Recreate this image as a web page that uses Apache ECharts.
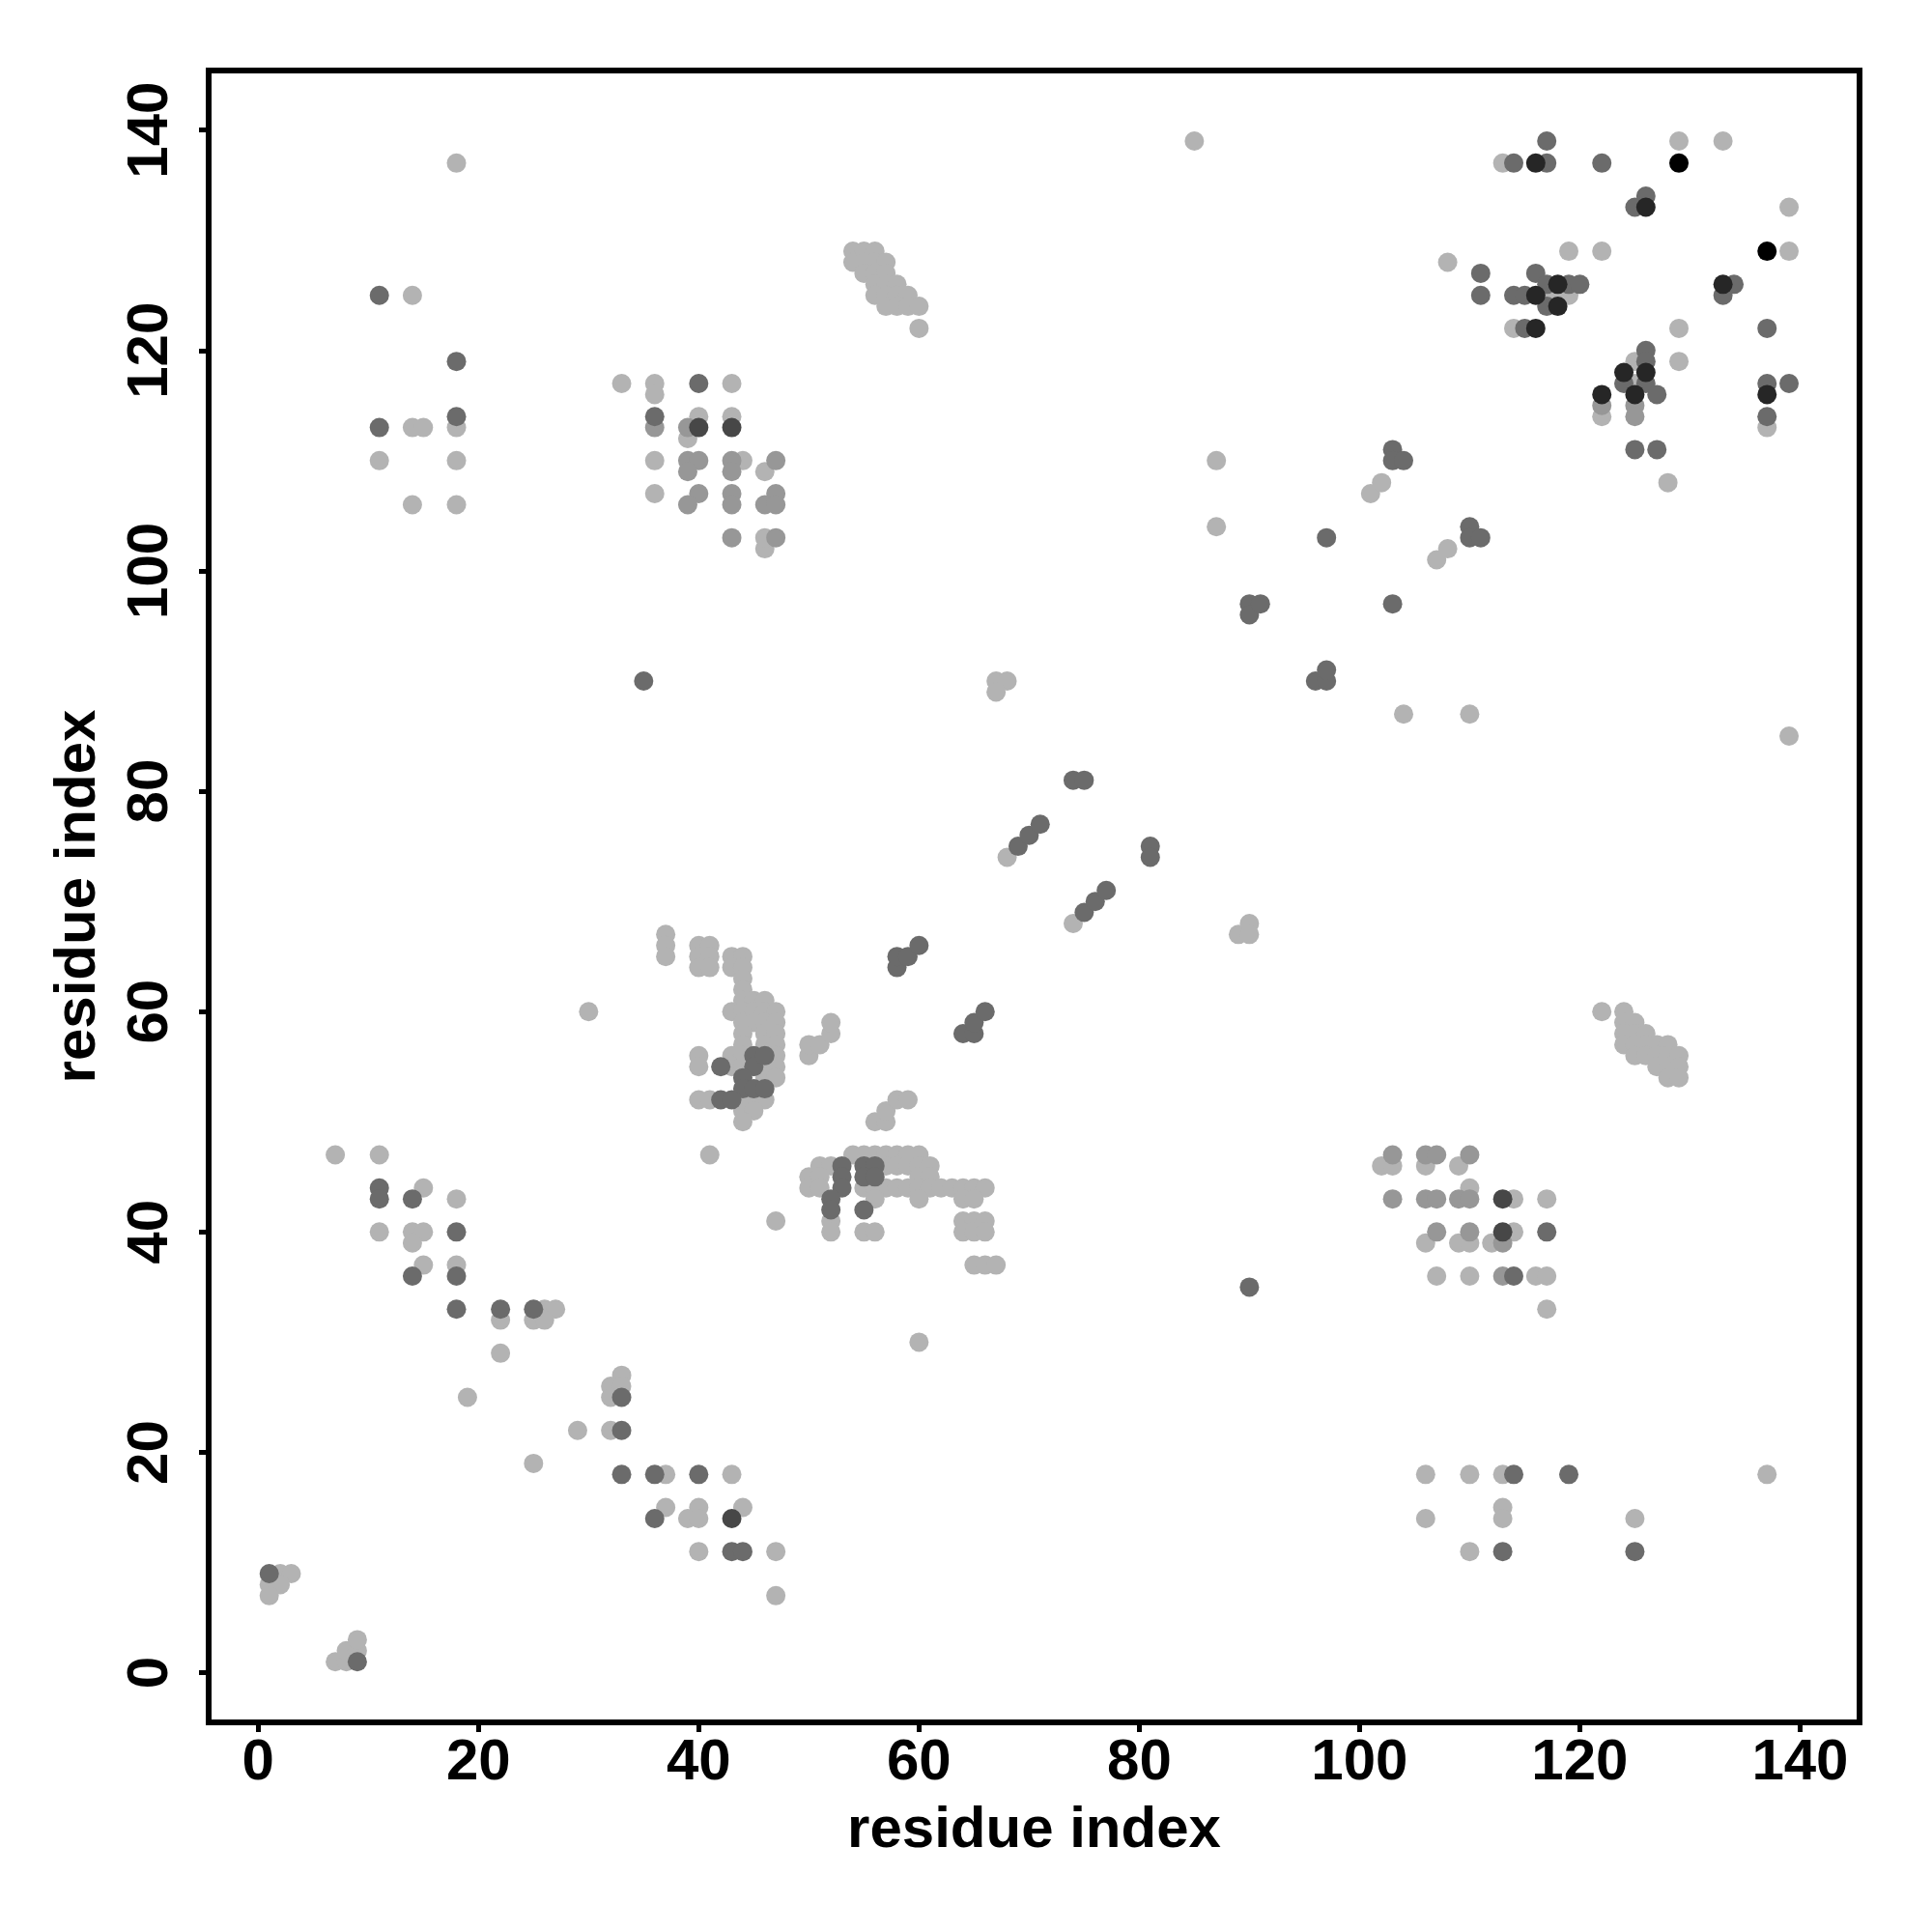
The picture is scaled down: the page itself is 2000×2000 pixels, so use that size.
<!DOCTYPE html>
<html>
<head>
<meta charset="utf-8">
<script src="https://cdn.jsdelivr.net/npm/echarts@6/dist/echarts.min.js"></script>
<style>html,body{margin:0;padding:0;background:#fff}#c{width:2000px;height:2000px}</style>
</head>
<body>
<div id="c"></div>
<script>
var tickValues = [0, 20, 40, 60, 80, 100, 120, 140];
var axisTitleX = 'residue index';
var axisTitleY = 'residue index';

// contacts by grey level: [residue i, residue j]
var lightPts = [
[2,9],[3,9],[1,8],[2,8],[1,7],[7,1],[8,1],[8,2],[9,2],[9,3],
[22,32],[26,33],[27,33],[25,32],[26,32],[22,29],[19,25],
[33,27],[32,26],[33,26],[32,25],[29,22],[32,22],[25,19],
[37,18],[43,18],[37,15],[40,15],[44,15],[39,14],[40,14],[40,11],[47,11],[47,7],[60,30],
[106,18],[110,18],[113,18],[137,18],[113,15],[106,14],[113,14],[125,14],[110,11],
[117,33],[102,46],[103,46],[106,46],[109,46],[110,44],[114,43],[117,43],[114,40],
[106,39],[109,39],[110,39],[112,39],[107,36],[110,36],[116,36],[117,36],
[30,60],[7,47],[11,47],[15,44],[18,43],[11,40],[14,40],[15,40],[14,39],[15,37],[18,37],
[37,67],[37,66],[37,65],[40,66],[41,66],[40,65],[41,65],[40,64],[41,64],
[43,65],[44,65],[43,64],[44,64],[44,63],[44,62],[44,61],[45,61],[46,61],
[43,60],[44,60],[45,60],[46,60],[47,60],[44,59],[45,59],[46,59],[47,59],
[44,58],[46,58],[47,58],[44,57],[46,57],[47,57],[43,56],[44,56],[47,56],
[43,55],[44,55],[46,55],[47,55],[46,54],[47,54],
[40,56],[40,55],[40,52],[41,52],[44,52],[45,52],[46,52],[44,51],[45,51],[44,50],[41,47],[47,41],
[50,56],[50,57],[51,57],[52,58],[52,59],[56,50],[57,50],[57,51],[58,52],[59,52],
[54,47],[55,47],[56,47],[57,47],[58,47],[59,47],[60,47],
[51,46],[52,46],[57,46],[58,46],[59,46],[60,46],[61,46],[50,45],[51,45],[60,45],[61,45],
[50,44],[51,44],[55,44],[56,44],[57,44],[58,44],[59,44],[60,44],[61,44],[62,44],[63,44],[64,44],[65,44],[66,44],
[56,43],[60,43],[64,43],[65,43],[52,41],[52,40],[55,40],[56,40],
[64,41],[65,41],[66,41],[64,40],[65,40],[66,40],[65,37],[66,37],[67,37],
[18,137],[14,125],[18,113],[14,113],[15,113],[11,110],[18,110],[14,106],[18,106],[33,117],
[54,129],[55,129],[56,129],[54,128],[55,128],[56,128],[57,128],[55,127],[56,127],[57,127],
[56,126],[57,126],[58,126],[56,125],[57,125],[58,125],[59,125],[57,124],[58,124],[59,124],[60,124],[60,122],
[36,117],[43,117],[36,116],[40,114],[43,114],[39,112],[36,110],[44,110],[46,109],[36,107],[46,102],[46,103],
[129,139],[133,139],[113,137],[139,133],[119,129],[122,129],[139,129],[108,128],
[117,125],[118,125],[119,125],[114,122],[129,122],[125,119],[129,119],[125,117],[122,114],[137,113],[128,108],[85,139],
[67,90],[68,90],[67,89],[68,74],[74,68],[89,67],[90,68],[90,67],[87,110],[87,104],
[101,107],[102,108],[104,87],[107,101],[108,102],[110,87],[139,85],
[124,60],[124,59],[125,59],[124,58],[125,58],[126,58],[124,57],[125,57],[126,57],[127,57],[128,57],
[125,56],[126,56],[127,56],[128,56],[129,56],[127,55],[128,55],[129,55],[128,54],[129,54],[122,60]
];
var midPts = [
[106,47],[107,47],[110,47],[103,47],[106,43],[107,43],[109,43],[110,43],[103,43],[107,40],[110,40],[113,39],[113,36],
[36,113],[39,113],[39,110],[40,110],[43,110],[47,110],[39,109],[43,109],[40,107],[43,107],[47,107],
[39,106],[43,106],[46,106],[47,106],[43,103],[47,103],
[122,115],[125,115],[125,114]
];
var darkPts = [
[1,9],[9,1],[11,44],[11,43],[14,43],[18,40],[14,36],[18,36],[18,33],[22,33],[25,33],
[33,25],[33,22],[33,18],[36,18],[40,18],[36,14],[43,11],[44,11],
[42,55],[45,56],[45,55],[46,56],[44,54],[44,53],[45,53],[46,53],[42,52],[43,52],
[58,64],[58,65],[59,65],[60,66],[64,58],[65,58],[65,59],[66,60],
[53,46],[53,45],[53,44],[52,43],[52,42],[55,46],[56,46],[55,45],[56,45],[55,42],
[11,125],[18,119],[18,114],[11,113],[40,117],[36,114],[35,90],
[117,139],[114,137],[117,137],[122,137],[126,134],[125,133],[111,127],[116,127],[117,126],[119,126],[120,126],
[134,126],[111,125],[114,125],[115,125],[133,125],[117,124],[115,122],[137,122],[126,120],[126,119],
[124,117],[126,117],[137,117],[139,117],[127,116],[137,114],[125,111],[127,111],[110,104],
[69,75],[70,76],[71,77],[74,81],[75,81],[81,75],[81,74],[75,69],[76,70],[77,71],
[90,97],[90,96],[91,97],[96,90],[97,90],[97,91],[97,103],[103,111],[103,110],[104,110],[103,97],
[110,103],[111,103],[90,35],[114,18],[119,18],[113,11],[125,11],[117,40],[114,36]
];
var darkerPts = [
[43,14],[40,113],[43,113],[113,43],[113,40]
];
var darkestPts = [
[116,137],[126,133],[118,126],[133,126],[116,125],[118,124],[116,122],[124,118],[126,118],[122,116],[125,116],[137,116]
];
var blackPts = [[129,137],[137,129]];

var FONT = 'Liberation Sans';
function ser(d, c) {
  return { type: 'scatter', data: d, symbol: 'circle', symbolSize: 20,
    itemStyle: { color: c, opacity: 1 }, silent: true, animation: false };
}
var chart = echarts.init(document.getElementById('c'), null, { renderer: 'canvas' });
chart.setOption({
  backgroundColor: '#ffffff',
  animation: false,
  grid: { left: 216, right: 75, top: 73, bottom: 217, show: true, borderColor: '#000', borderWidth: 6, backgroundColor: 'transparent' },
  xAxis: {
    type: 'value', min: -4.5, max: 145.4,
    splitLine: { show: false }, axisLine: { show: false, onZero: false },
    axisTick: { show: true, inside: false, length: 10, lineStyle: { color: '#000', width: 5 }, customValues: tickValues },
    axisLabel: { customValues: tickValues, fontFamily: FONT, fontWeight: 'bold', fontSize: 60, color: '#000', margin: 12 },
    name: axisTitleX, nameLocation: 'middle', nameGap: 82,
    nameTextStyle: { fontFamily: FONT, fontWeight: 'bold', fontSize: 60, color: '#000' }
  },
  yAxis: {
    type: 'value', min: -4.5, max: 145.4,
    splitLine: { show: false }, axisLine: { show: false, onZero: false },
    axisTick: { show: true, inside: false, length: 10, lineStyle: { color: '#000', width: 5 }, customValues: tickValues },
    axisLabel: { customValues: tickValues, rotate: 90, fontFamily: FONT, fontWeight: 'bold', fontSize: 60, color: '#000', margin: 30 },
    name: axisTitleY, nameLocation: 'middle', nameGap: 105,
    nameTextStyle: { fontFamily: FONT, fontWeight: 'bold', fontSize: 60, color: '#000' }
  },
  series: [
    ser(lightPts, '#b3b3b3'),
    ser(midPts, '#979797'),
    ser(darkPts, '#6b6b6b'),
    ser(darkerPts, '#474747'),
    ser(darkestPts, '#262626'),
    ser(blackPts, '#000000')
  ]
});
</script>
</body>
</html>
